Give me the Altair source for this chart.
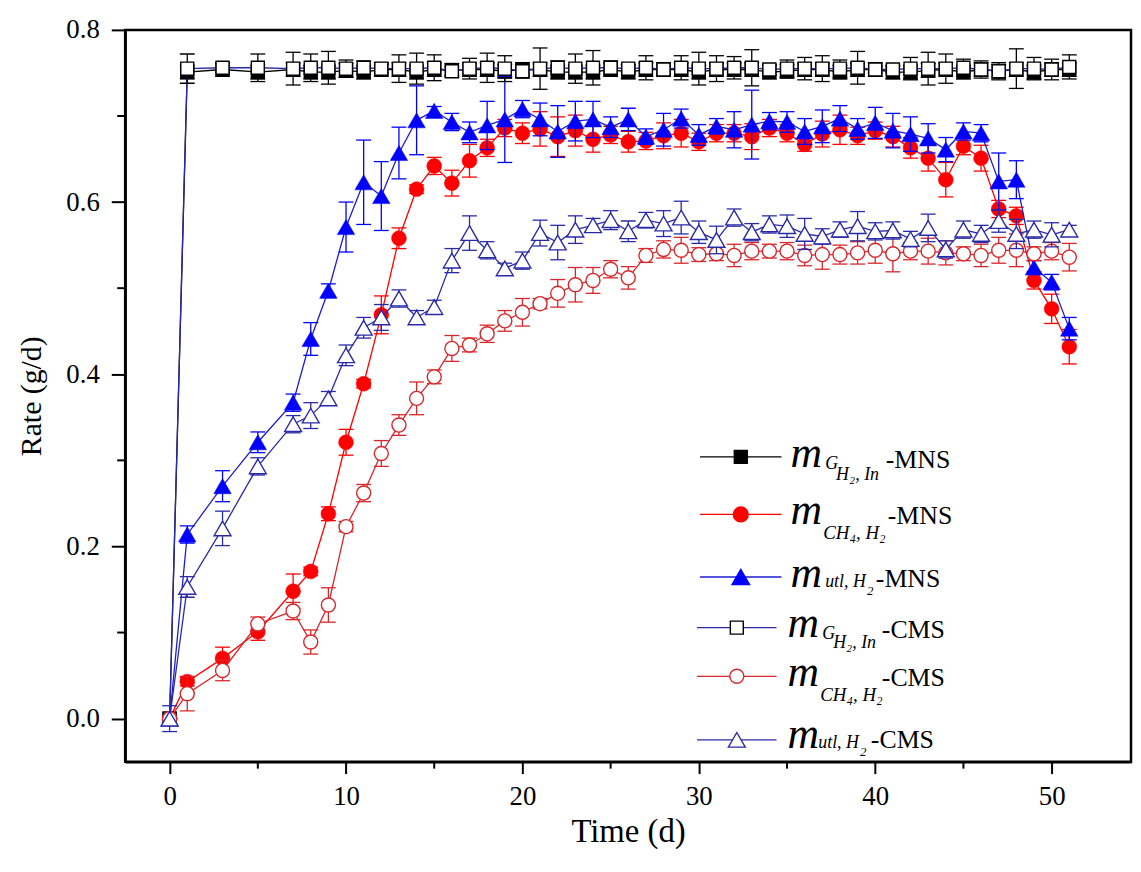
import altair as alt
import pandas as pd

# ---------------- data ----------------
t = [0, 1, 3, 5, 7] + list(range(8, 52))

g_mns = [0.0, 0.751, 0.754, 0.751, 0.754, 0.751, 0.751, 0.753, 0.751, 0.754,
         0.754, 0.751, 0.754, 0.753, 0.754, 0.754, 0.752, 0.754, 0.754, 0.751,
         0.751, 0.751, 0.754, 0.751, 0.754, 0.754, 0.754, 0.751, 0.754, 0.754,
         0.754, 0.751, 0.752, 0.754, 0.754, 0.751, 0.754, 0.754, 0.751, 0.751,
         0.753, 0.754, 0.751, 0.754, 0.752, 0.754, 0.751, 0.754, 0.754]
g_mns_err = [0.0] + [0.008] * 48

ch4_mns = [0.0, 0.043, 0.070, 0.101, 0.148, 0.171, 0.238, 0.321, 0.389, 0.469,
           0.558, 0.615, 0.642, 0.622, 0.648, 0.663, 0.686, 0.680, 0.685, 0.676,
           0.683, 0.673, 0.678, 0.670, 0.671, 0.677, 0.680, 0.670, 0.680, 0.680,
           0.676, 0.686, 0.680, 0.667, 0.679, 0.684, 0.677, 0.683, 0.676, 0.663,
           0.651, 0.626, 0.665, 0.651, 0.592, 0.584, 0.509, 0.476, 0.432]
ch4_mns_err = [0.0, 0.005, 0.013, 0.010, 0.020, 0.005, 0.008, 0.015, 0.005, 0.022,
               0.012, 0.005, 0.010, 0.015, 0.019, 0.010, 0.010, 0.012, 0.020, 0.023,
               0.018, 0.015, 0.010, 0.012, 0.010, 0.015, 0.016, 0.010, 0.010, 0.010,
               0.015, 0.010, 0.010, 0.008, 0.015, 0.017, 0.010, 0.010, 0.012, 0.012,
               0.015, 0.020, 0.010, 0.015, 0.010, 0.010, 0.010, 0.017, 0.020]

utl_mns = [0.0, 0.214, 0.270, 0.321, 0.367, 0.441, 0.497, 0.571, 0.623, 0.607,
           0.657, 0.695, 0.706, 0.693, 0.681, 0.689, 0.696, 0.708, 0.696, 0.682,
           0.694, 0.696, 0.687, 0.696, 0.676, 0.684, 0.697, 0.678, 0.688, 0.684,
           0.690, 0.694, 0.693, 0.682, 0.688, 0.697, 0.685, 0.692, 0.683, 0.679,
           0.674, 0.661, 0.682, 0.680, 0.624, 0.626, 0.524, 0.507, 0.453]
utl_mns_err = [0.0, 0.010, 0.018, 0.012, 0.010, 0.019, 0.008, 0.029, 0.049, 0.040,
               0.030, 0.040, 0.005, 0.010, 0.012, 0.028, 0.050, 0.010, 0.019, 0.030,
               0.023, 0.021, 0.012, 0.013, 0.009, 0.019, 0.011, 0.012, 0.009, 0.021,
               0.040, 0.010, 0.012, 0.015, 0.019, 0.015, 0.012, 0.018, 0.020, 0.020,
               0.017, 0.014, 0.010, 0.010, 0.033, 0.022, 0.008, 0.009, 0.013]

g_cms = [0.0, 0.755, 0.756, 0.756, 0.755, 0.756, 0.756, 0.755, 0.756, 0.755,
         0.755, 0.755, 0.756, 0.752, 0.755, 0.756, 0.755, 0.752, 0.755, 0.756,
         0.755, 0.756, 0.756, 0.755, 0.756, 0.754, 0.756, 0.755, 0.755, 0.756,
         0.756, 0.754, 0.755, 0.755, 0.755, 0.755, 0.756, 0.754, 0.754, 0.755,
         0.755, 0.755, 0.756, 0.754, 0.752, 0.755, 0.755, 0.754, 0.757]
g_cms_err = [0.0, 0.017, 0.005, 0.016, 0.019, 0.016, 0.019, 0.010, 0.008, 0.005,
             0.016, 0.018, 0.015, 0.005, 0.012, 0.017, 0.015, 0.008, 0.024, 0.008,
             0.017, 0.020, 0.008, 0.005, 0.014, 0.005, 0.014, 0.019, 0.015, 0.013,
             0.021, 0.006, 0.010, 0.013, 0.015, 0.010, 0.019, 0.004, 0.004, 0.013,
             0.019, 0.017, 0.010, 0.010, 0.010, 0.023, 0.013, 0.012, 0.014]

ch4_cms = [0.0, 0.029, 0.056, 0.110, 0.125, 0.089, 0.132, 0.223, 0.262, 0.308,
           0.341, 0.372, 0.397, 0.430, 0.434, 0.447, 0.462, 0.472, 0.482, 0.494,
           0.504, 0.509, 0.522, 0.512, 0.538, 0.545, 0.544, 0.539, 0.540, 0.538,
           0.543, 0.543, 0.543, 0.538, 0.539, 0.539, 0.541, 0.544, 0.540, 0.543,
           0.543, 0.541, 0.540, 0.538, 0.544, 0.544, 0.540, 0.543, 0.536]
ch4_cms_err = [0.0, 0.020, 0.012, 0.008, 0.010, 0.014, 0.020, 0.006, 0.010, 0.015,
               0.012, 0.019, 0.008, 0.015, 0.008, 0.010, 0.012, 0.016, 0.006, 0.016,
               0.020, 0.015, 0.010, 0.013, 0.008, 0.010, 0.015, 0.008, 0.008, 0.013,
               0.010, 0.008, 0.010, 0.012, 0.017, 0.011, 0.013, 0.015, 0.021, 0.010,
               0.015, 0.014, 0.008, 0.013, 0.015, 0.019, 0.008, 0.010, 0.016]

utl_cms = [0.0, 0.153, 0.221, 0.293, 0.342, 0.352, 0.372, 0.422, 0.454, 0.466,
           0.488, 0.466, 0.478, 0.532, 0.564, 0.544, 0.523, 0.532, 0.564, 0.553,
           0.568, 0.573, 0.579, 0.566, 0.579, 0.575, 0.582, 0.565, 0.556, 0.582,
           0.565, 0.574, 0.572, 0.563, 0.560, 0.568, 0.572, 0.566, 0.567, 0.557,
           0.570, 0.545, 0.568, 0.563, 0.578, 0.563, 0.568, 0.562, 0.568]
utl_cms_err = [0.015, 0.012, 0.020, 0.010, 0.010, 0.015, 0.008, 0.012, 0.012, 0.015,
               0.010, 0.008, 0.008, 0.014, 0.020, 0.010, 0.006, 0.010, 0.015, 0.020,
               0.016, 0.008, 0.011, 0.012, 0.009, 0.015, 0.019, 0.013, 0.016, 0.010,
               0.010, 0.010, 0.013, 0.018, 0.009, 0.009, 0.017, 0.010, 0.010, 0.009,
               0.016, 0.010, 0.010, 0.010, 0.013, 0.017, 0.010, 0.014, 0.005]

x_major = [0, 10, 20, 30, 40, 50]
x_minor = [5, 15, 25, 35, 45]
y_major = [0.0, 0.2, 0.4, 0.6, 0.8]
y_minor = [0.1, 0.3, 0.5, 0.7]

# ---------------- styling ----------------
FONT = "Liberation Serif"
RED = "#ff0000"
RED_O = "#d8262a"
BLUE = "#0000ff"
BLUE_L = "#1c1cd0"
NAVY = "#2a2aa8"
BLACK = "#000000"
W, H = 1013, 737

x_axis = alt.Axis(
    values=x_major, title="Time (d)", format="d",
    tickSize=12, tickWidth=2, tickColor=BLACK, domainColor=BLACK, domainWidth=2.5,
    labelFont=FONT, labelFontSize=27, labelColor=BLACK, labelPadding=10,
    titleFont=FONT, titleFontSize=33, titleFontWeight="normal", titleColor=BLACK,
    titlePadding=6, grid=False, labelFlush=False,
)
y_axis = alt.Axis(
    values=y_major, title="Rate (g/d)", format=".1f",
    tickSize=14, tickWidth=2, tickColor=BLACK, domainColor=BLACK, domainWidth=2.5,
    labelFont=FONT, labelFontSize=27, labelColor=BLACK, labelPadding=12,
    titleFont=FONT, titleFontSize=30, titleFontWeight="normal", titleColor=BLACK,
    titlePadding=20, grid=False, labelFlush=False,
)
xs = alt.Scale(domain=[-2.52, 54.5], nice=False, zero=False)
ys = alt.Scale(domain=[-0.05, 0.8], nice=False, zero=False)
X = alt.X("t:Q", scale=xs, axis=x_axis)


def Y(field):
    return alt.Y(field, scale=ys, axis=y_axis)


def series(vals, errs, line_color, shape, size, fill, stroke, sw=1.4):
    df = pd.DataFrame({
        "t": t, "v": vals,
        "lo": [v - e for v, e in zip(vals, errs)],
        "hi": [v + e for v, e in zip(vals, errs)],
    })
    base = alt.Chart(df)
    line = base.mark_line(color=line_color, strokeWidth=1.3).encode(x=X, y=Y("v:Q"))
    rule = base.mark_rule(color=stroke, strokeWidth=1.3).encode(x=X, y=Y("lo:Q"), y2="hi:Q")
    cap_lo = base.mark_tick(orient="horizontal", size=15, thickness=1.3, color=stroke,
                            opacity=1).encode(x=X, y=Y("lo:Q"))
    cap_hi = base.mark_tick(orient="horizontal", size=15, thickness=1.3, color=stroke,
                            opacity=1).encode(x=X, y=Y("hi:Q"))
    pts = base.mark_point(shape=shape, size=size, filled=True, fill=fill, stroke=stroke,
                          strokeWidth=sw, opacity=1, fillOpacity=1).encode(x=X, y=Y("v:Q"))
    return [line, rule, cap_lo, cap_hi, pts]


layers = []
layers += series(g_mns, g_mns_err, BLACK, "square", 170, BLACK, BLACK)
layers += series(ch4_mns, ch4_mns_err, RED, "circle", 225, RED, RED, sw=0.5)
layers += series(utl_mns, utl_mns_err, BLUE_L, "triangle-up", 310, BLUE, BLUE, sw=0.5)
layers += series(g_cms, g_cms_err, NAVY, "square", 170, "white", BLACK)
layers += series(ch4_cms, ch4_cms_err, RED_O, "circle", 200, "white", RED_O)
layers += series(utl_cms, utl_cms_err, NAVY, "triangle-up", 290, "white", NAVY)

# minor ticks (outside the frame)
layers.append(alt.Chart(pd.DataFrame({"t": x_minor})).mark_rule(
    color=BLACK, strokeWidth=2).encode(x=X, y=alt.value(H), y2=alt.value(H + 7)))
layers.append(alt.Chart(pd.DataFrame({"v": y_minor})).mark_rule(
    color=BLACK, strokeWidth=2).encode(y=Y("v:Q"), x=alt.value(0), x2=alt.value(-8)))

# ---------------- hand-built legend (pixel positions inside plot) ----------------
one = pd.DataFrame({"k": [0]})
legend_rows = [
    # y, x1, x2, mx, line colour, shape, size, fill, stroke, texts
    (430, 579, 661, 620, BLACK, "square", 170, BLACK, BLACK,
     [("m", 670, 440, 44, "italic"), ("G", 705, 442, 18, "italic"),
      ("H₂, In", 716, 453, 18, "italic"), ("-MNS", 766, 441, 26, "normal")]),
    (488, 579, 661, 620, RED, "circle", 225, RED, RED,
     [("m", 670, 498, 44, "italic"), ("CH₄, H₂", 703, 513, 19, "italic"),
      ("-MNS", 768, 498, 26, "normal")]),
    (551, 579, 661, 620, BLUE_L, "triangle-up", 310, BLUE, BLUE,
     [("m", 670, 561, 44, "italic"), ("utl, H", 705, 561, 18, "italic"),
      ("2", 747, 569, 13, "italic"), ("-MNS", 756, 561, 26, "normal")]),
    (602, 576, 656, 616, NAVY, "square", 170, "white", BLACK,
     [("m", 667, 611, 44, "italic"), ("G", 702, 613, 18, "italic"),
      ("H₂, In", 713, 623, 18, "italic"), ("-CMS", 762, 612, 26, "normal")]),
    (651, 576, 656, 616, RED_O, "circle", 200, "white", RED_O,
     [("m", 667, 661, 44, "italic"), ("CH₄, H₂", 700, 676, 19, "italic"),
      ("-CMS", 762, 661, 26, "normal")]),
    (715, 576, 656, 616, NAVY, "triangle-up", 290, "white", NAVY,
     [("m", 667, 723, 44, "italic"), ("utl, H", 698, 723, 18, "italic"),
      ("2", 740, 731, 13, "italic"), ("-CMS", 751, 723, 26, "normal")]),
]
for (ly, x1, x2, mx, lc, shp, sz, fl, st, texts) in legend_rows:
    b = alt.Chart(one)
    layers.append(b.mark_rule(color=lc, strokeWidth=1.3).encode(
        x=alt.value(x1), x2=alt.value(x2), y=alt.value(ly)))
    layers.append(b.mark_point(shape=shp, size=sz, filled=True, fill=fl, stroke=st,
                               strokeWidth=1.4, opacity=1, fillOpacity=1).encode(
        x=alt.value(mx), y=alt.value(ly)))
    for (txt, tx, ty, fs, style) in texts:
        layers.append(b.mark_text(text=txt, font=FONT, fontSize=fs, fontStyle=style,
                                  align="left", baseline="alphabetic", color=BLACK).encode(
            x=alt.value(tx), y=alt.value(ty)))

chart = alt.layer(*layers).properties(
    width=W, height=H,
    autosize=alt.AutoSizeParams(type="none"),
    padding={"left": 118, "top": 19, "right": 2, "bottom": 100},
    background="white",
).configure(
    font=FONT
).configure_view(
    stroke=BLACK, strokeWidth=2.5
).configure_axis(
    labelFont=FONT, titleFont=FONT, labelColor=BLACK, titleColor=BLACK,
    titleFontWeight="normal",
)

chart.save("out.html", embed_options={"renderer": "svg", "actions": False})
